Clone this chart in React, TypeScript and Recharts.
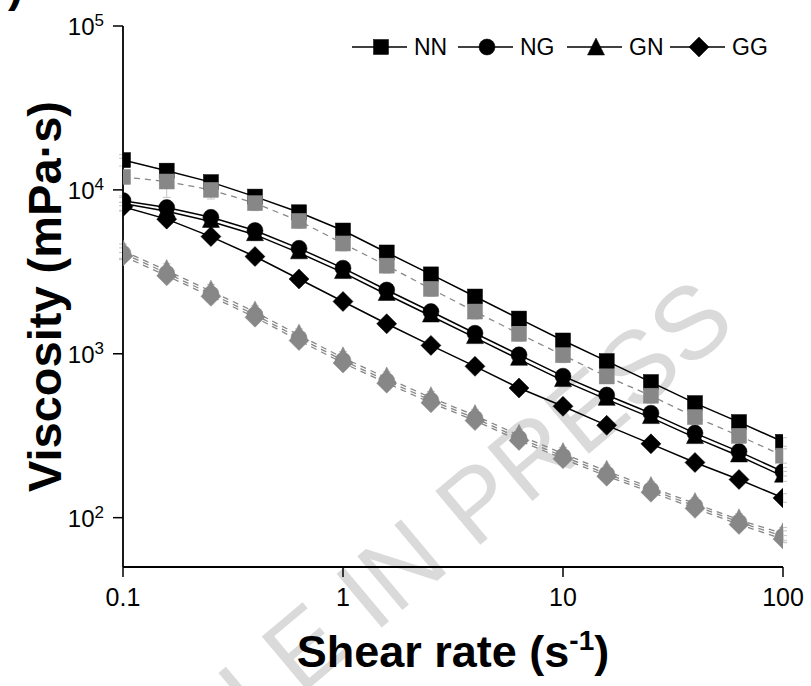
import React from 'react';
import { LineChart, Line, XAxis, YAxis, ErrorBar, Legend, Label } from 'recharts';

const FONT = '"Liberation Sans", Arial, Helvetica, sans-serif';

// Shear rate (s^-1)
const shearRate = [0.1, 0.158, 0.251, 0.398, 0.631, 1, 1.58, 2.51, 3.98, 6.31, 10, 15.8, 25.1, 39.8, 63.1, 100];

// Viscosity (mPa·s) – black series, solid lines
const NN = [15200, 13100, 11150, 9100, 7300, 5650, 4150, 3050, 2235, 1640, 1205, 902, 672, 500, 383, 290];
const NG = [8600, 7800, 6800, 5650, 4400, 3330, 2450, 1810, 1335, 985, 730, 560, 434, 328, 253, 191];
const GN = [8250, 7400, 6420, 5330, 4130, 3130, 2300, 1700, 1255, 925, 686, 527, 408, 308, 238, 179];
const GG = [7900, 6630, 5190, 3920, 2860, 2085, 1524, 1125, 838, 618, 478, 366, 282, 217, 171, 132];

// Viscosity (mPa·s) – grey series, dashed lines
const NN_G = [12000, 11250, 10000, 8300, 6470, 4710, 3450, 2490, 1810, 1325, 980, 727, 555, 411, 316, 239];
const NG_G = [4100, 3100, 2320, 1730, 1250, 910, 685, 520, 405, 306, 237, 185, 148, 118, 94, 77];
const GN_G = [4250, 3220, 2410, 1800, 1300, 945, 712, 540, 420, 318, 246, 192, 153, 122, 97, 80];
const GG_G = [3950, 2990, 2240, 1670, 1205, 878, 662, 502, 391, 296, 229, 179, 143, 114, 91, 74];

// relative standard deviations
const ERR_NN = [0.08, 0.1, 0.08, 0.06, 0.06, 0.07, 0.07, 0.06, 0.06, 0.07, 0.06, 0.06, 0.07, 0.06, 0.06, 0.06];
const ERR_NG = [0.07, 0.08, 0.07, 0.06, 0.07, 0.06, 0.06, 0.07, 0.06, 0.06, 0.06, 0.07, 0.06, 0.06, 0.06, 0.06];
const ERR_GN = [0.09, 0.09, 0.08, 0.08, 0.07, 0.07, 0.07, 0.07, 0.07, 0.07, 0.07, 0.07, 0.07, 0.07, 0.07, 0.07];
const ERR_GG = [0.06, 0.07, 0.06, 0.06, 0.06, 0.06, 0.06, 0.05, 0.06, 0.06, 0.06, 0.06, 0.06, 0.05, 0.06, 0.06];
const ERR_NN_G = [0.3, 0.2, 0.12, 0.1, 0.1, 0.1, 0.1, 0.1, 0.1, 0.1, 0.1, 0.09, 0.1, 0.1, 0.1, 0.1];
const ERR_NG_G = [0.08, 0.08, 0.08, 0.08, 0.08, 0.08, 0.08, 0.08, 0.08, 0.08, 0.08, 0.08, 0.08, 0.08, 0.08, 0.08];
const ERR_GN_G = [0.1, 0.1, 0.1, 0.09, 0.09, 0.09, 0.09, 0.09, 0.09, 0.09, 0.09, 0.09, 0.09, 0.09, 0.09, 0.09];
const ERR_GG_G = [0.05, 0.05, 0.05, 0.05, 0.05, 0.05, 0.05, 0.05, 0.05, 0.05, 0.05, 0.05, 0.05, 0.05, 0.05, 0.05];

const Y_TICKS = [100, 1000, 10000, 100000];
const X_TICKS = [0.1, 1, 10, 100];

type Shape = 'square' | 'circle' | 'triangle' | 'diamond';
interface SeriesDef { key: string; name: string; values: number[]; err: number[]; shape: Shape; grey: boolean; }

const SERIES: SeriesDef[] = [
  { key: 'nn', name: 'NN', values: NN, err: ERR_NN, shape: 'square', grey: false },
  { key: 'ng', name: 'NG', values: NG, err: ERR_NG, shape: 'circle', grey: false },
  { key: 'gn', name: 'GN', values: GN, err: ERR_GN, shape: 'triangle', grey: false },
  { key: 'gg', name: 'GG', values: GG, err: ERR_GG, shape: 'diamond', grey: false },
  { key: 'nn2', name: 'NN ', values: NN_G, err: ERR_NN_G, shape: 'square', grey: true },
  { key: 'ng2', name: 'NG ', values: NG_G, err: ERR_NG_G, shape: 'circle', grey: true },
  { key: 'gn2', name: 'GN ', values: GN_G, err: ERR_GN_G, shape: 'triangle', grey: true },
  { key: 'gg2', name: 'GG ', values: GG_G, err: ERR_GG_G, shape: 'diamond', grey: true },
];

const data = shearRate.map((x, i) => {
  const row: Record<string, number> = { x };
  SERIES.forEach((s) => {
    row[s.key] = s.values[i];
    row[s.key + 'Err'] = s.values[i] * s.err[i];
  });
  return row;
});

const GREY = '#878787';

function drawShape(shape: Shape, cx: number, cy: number, fill: string, key?: string) {
  switch (shape) {
    case 'square':
      return <rect key={key} x={cx - 7.5} y={cy - 7.5} width={15} height={15} fill={fill} stroke={fill} strokeWidth={0.5} />;
    case 'circle':
      return <circle key={key} cx={cx} cy={cy} r={8} fill={fill} stroke={fill} strokeWidth={0.5} />;
    case 'triangle':
      return (
        <polygon key={key} points={`${cx},${cy - 11} ${cx - 8.5},${cy + 6} ${cx + 8.5},${cy + 6}`} fill={fill} stroke={fill} strokeWidth={0.5} />
      );
    default:
      return (
        <polygon key={key} points={`${cx},${cy - 10} ${cx + 10},${cy} ${cx},${cy + 10} ${cx - 10},${cy}`} fill={fill} stroke={fill} strokeWidth={0.5} />
      );
  }
}

const makeDot = (shape: Shape, fill: string) => (props: any) => {
  const { cx, cy, index } = props;
  if (cx == null || cy == null || isNaN(cx) || isNaN(cy)) return <g key={`e-${index}`} />;
  return drawShape(shape, cx, cy, fill, `d-${index}`);
};

const YTick = (props: any) => {
  const { x, y, payload } = props;
  const exp = Math.round(Math.log10(payload.value));
  return (
    <text x={x} y={y} dy={9} textAnchor="end" fontSize={24} fontFamily={FONT} fill="#000">
      10<tspan dy={-9} fontSize={17}>{exp}</tspan>
    </text>
  );
};

const XTick = (props: any) => {
  const { x, y, payload } = props;
  return (
    <text x={x} y={y} dy={27} textAnchor="middle" fontSize={25} fontFamily={FONT} fill="#000">
      {payload.value}
    </text>
  );
};

const LEGEND_OFFSETS = [0, 106, 215, 318];

const renderLegend = () => {
  const items = SERIES.filter((s) => !s.grey);
  return (
    <svg width={440} height={28} style={{ display: 'block' }}>
      {items.map((s, i) => {
        const x0 = LEGEND_OFFSETS[i] + 4;
        return (
          <g key={s.key}>
            <line x1={x0} x2={x0 + 55} y1={13} y2={13} stroke="#000" strokeWidth={1.5} />
            {drawShape(s.shape, x0 + 29, 13 + (s.shape === 'triangle' ? 2 : 0), '#000')}
            <text x={x0 + 62} y={21} fontSize={23} fontFamily={FONT} fill="#000">
              {s.name}
            </text>
          </g>
        );
      })}
    </svg>
  );
};

const XTitle = (props: any) => {
  const vb = props.viewBox;
  const cx = vb.x + vb.width / 2;
  return (
    <text x={cx} y={vb.y + 100} textAnchor="middle" fontSize={45} fontWeight="bold" fontFamily={FONT} fill="#000">
      Shear rate (s<tspan dy={-17} fontSize={28}>-1</tspan>
      <tspan dy={17}>)</tspan>
    </text>
  );
};

const YTitle = (props: any) => {
  const vb = props.viewBox;
  const cy = vb.y + vb.height / 2;
  const x = vb.x + 61;
  return (
    <text x={x} y={cy} transform={`rotate(-90 ${x} ${cy})`} textAnchor="middle" fontSize={47} fontWeight="bold" fontFamily={FONT} fill="#000">
      Viscosity (mPa·s)
    </text>
  );
};

export default function App() {
  const wmX = 474;
  const wmY = 550;
  return (
    <div style={{ position: 'absolute', left: 0, top: 0, width: 811, height: 686, background: '#fff', overflow: 'hidden' }}>
      <svg width={811} height={686} style={{ position: 'absolute', left: 0, top: 0 }}>
        <g transform={`rotate(-40 ${wmX} ${wmY})`} fontFamily={FONT} fontSize={102} fill="#dadada">
          <text x={wmX - 28} y={wmY} textAnchor="end">ARTICLE IN</text>
          <text x={wmX} y={wmY} textAnchor="start">PRESS</text>
        </g>
        <text x={8} y={1} fontSize={46} fontWeight="bold" fontFamily={FONT} fill="#000">)</text>
      </svg>
      <div style={{ position: 'absolute', left: 0, top: 0 }}>
        <LineChart width={811} height={686} data={data} margin={{ top: 26, right: 28, bottom: 0, left: 0 }}>
          <XAxis
            dataKey="x"
            type="number"
            scale="log"
            domain={[0.1, 100]}
            ticks={X_TICKS}
            allowDataOverflow
            height={119}
            tickSize={10}
            tickMargin={2}
            tick={<XTick />}
            axisLine={{ stroke: '#000', strokeWidth: 1.8 }}
            tickLine={{ stroke: '#000', strokeWidth: 1.5 }}
          >
            <Label content={<XTitle />} />
          </XAxis>
          <YAxis
            type="number"
            scale="log"
            domain={[50, 100000]}
            ticks={Y_TICKS}
            allowDataOverflow
            width={123}
            tickSize={10}
            tickMargin={9}
            tick={<YTick />}
            axisLine={{ stroke: '#000', strokeWidth: 1.8 }}
            tickLine={{ stroke: '#000', strokeWidth: 1.5 }}
          >
            <Label content={<YTitle />} />
          </YAxis>
          <XAxis xAxisId="top" orientation="top" type="number" domain={[0, 1]} height={0} tick={false} tickLine={false} axisLine={{ stroke: '#000', strokeWidth: 1.8 }} />
          <YAxis yAxisId="right" orientation="right" type="number" domain={[0, 1]} width={0} tick={false} tickLine={false} axisLine={{ stroke: '#000', strokeWidth: 1.8 }} />
          <Legend layout="vertical" align="center" verticalAlign="middle" content={renderLegend} wrapperStyle={{ left: 348, top: 34, width: 440, height: 28 }} />
          {SERIES.map((s) => (
            <Line
              key={s.key}
              dataKey={s.key}
              name={s.name}
              type="linear"
              stroke={s.grey ? GREY : '#000'}
              strokeWidth={s.grey ? 1.3 : 1.5}
              strokeDasharray={s.grey ? '6 5' : undefined}
              dot={makeDot(s.shape, s.grey ? GREY : '#000')}
              activeDot={false}
              legendType={s.grey ? 'none' : 'line'}
              isAnimationActive={false}
            />
          ))}
          {SERIES.map((s) => (
            <Line
              key={s.key + '-err'}
              dataKey={s.key}
              name={s.name + ' err'}
              stroke="none"
              dot={false}
              activeDot={false}
              legendType="none"
              isAnimationActive={false}
            >
              <ErrorBar dataKey={s.key + 'Err'} width={4} stroke="#c4c4c4" strokeWidth={1} direction="y" />
            </Line>
          ))}
        </LineChart>
      </div>
    </div>
  );
}
